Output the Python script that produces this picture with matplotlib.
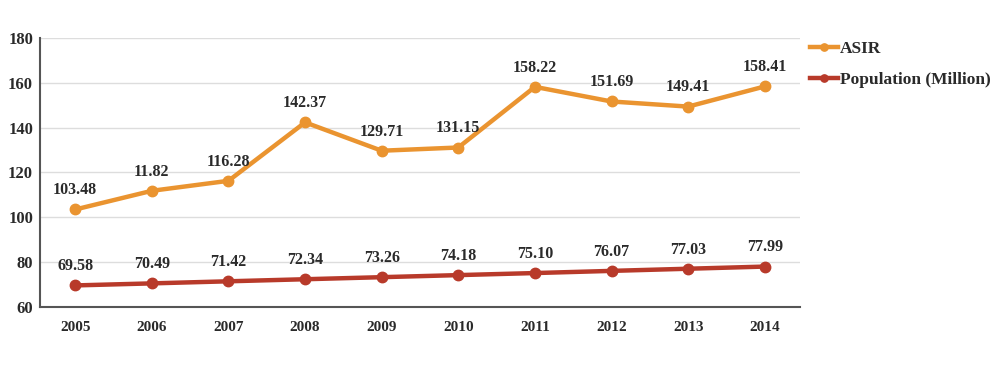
import matplotlib

matplotlib.use("Agg")
import matplotlib.pyplot as plt

years = [2005, 2006, 2007, 2008, 2009, 2010, 2011, 2012, 2013, 2014]
asir = [103.48, 111.82, 116.28, 142.37, 129.71, 131.15, 158.22, 151.69, 149.41, 158.41]
asir_labels = ["103.48", "11.82", "116.28", "142.37", "129.71", "131.15",
               "158.22", "151.69", "149.41", "158.41"]
population = [69.58, 70.49, 71.42, 72.34, 73.26, 74.18, 75.10, 76.07, 77.03, 77.99]
pop_labels = ["69.58", "70.49", "71.42", "72.34", "73.26", "74.18",
              "75.10", "76.07", "77.03", "77.99"]

ORANGE = "#EA9430"
RED = "#B83A2A"
TXT = "#2a2a2a"

plt.rcParams["font.family"] = ["Liberation Serif", "DejaVu Serif"]

fig = plt.figure(figsize=(10, 3.77), dpi=100)
ax = fig.add_axes([0.04, 0.186, 0.76, 0.713])

ax.plot(years, asir, color=ORANGE, lw=3.2, marker="o", ms=7.5, label="ASIR", zorder=3)
ax.plot(years, population, color=RED, lw=3.2, marker="o", ms=7.5,
        label="Population (Million)", zorder=3)

# étiquettes des valeurs
for x, y, t in zip(years, asir, asir_labels):
    ax.annotate(t, (x, y), xytext=(0, 8), textcoords="offset points",
                ha="center", va="bottom", fontsize=11.5, fontweight="bold", color=TXT)
for x, y, t in zip(years, population, pop_labels):
    ax.annotate(t, (x, y), xytext=(0, 8), textcoords="offset points",
                ha="center", va="bottom", fontsize=11.5, fontweight="bold", color=TXT)

ax.set_ylim(60, 180)
ax.set_yticks(range(60, 181, 20))
ax.set_xlim(2004.54, 2014.46)
ax.set_xticks(years)
ax.tick_params(length=0, colors=TXT)
ax.tick_params(axis="x", labelsize=11, pad=10)
ax.tick_params(axis="y", labelsize=12, pad=5)
for lab in ax.get_xticklabels() + ax.get_yticklabels():
    lab.set_fontweight("bold")

ax.grid(axis="y", color="#dddddd", lw=1)
ax.set_axisbelow(True)
for s in ["top", "right"]:
    ax.spines[s].set_visible(False)
for s in ["left", "bottom"]:
    ax.spines[s].set_color("#555555")
    ax.spines[s].set_linewidth(1.5)

leg = ax.legend(loc="upper left", bbox_to_anchor=(1.0, 1.03), frameon=False,
                fontsize=12.5, handlelength=1.6, handletextpad=0.1,
                labelspacing=0.9, borderaxespad=0.2, markerscale=0.7)
for t in leg.get_texts():
    t.set_color(TXT)
    t.set_fontweight("bold")

fig.savefig("out.png", dpi=100)
